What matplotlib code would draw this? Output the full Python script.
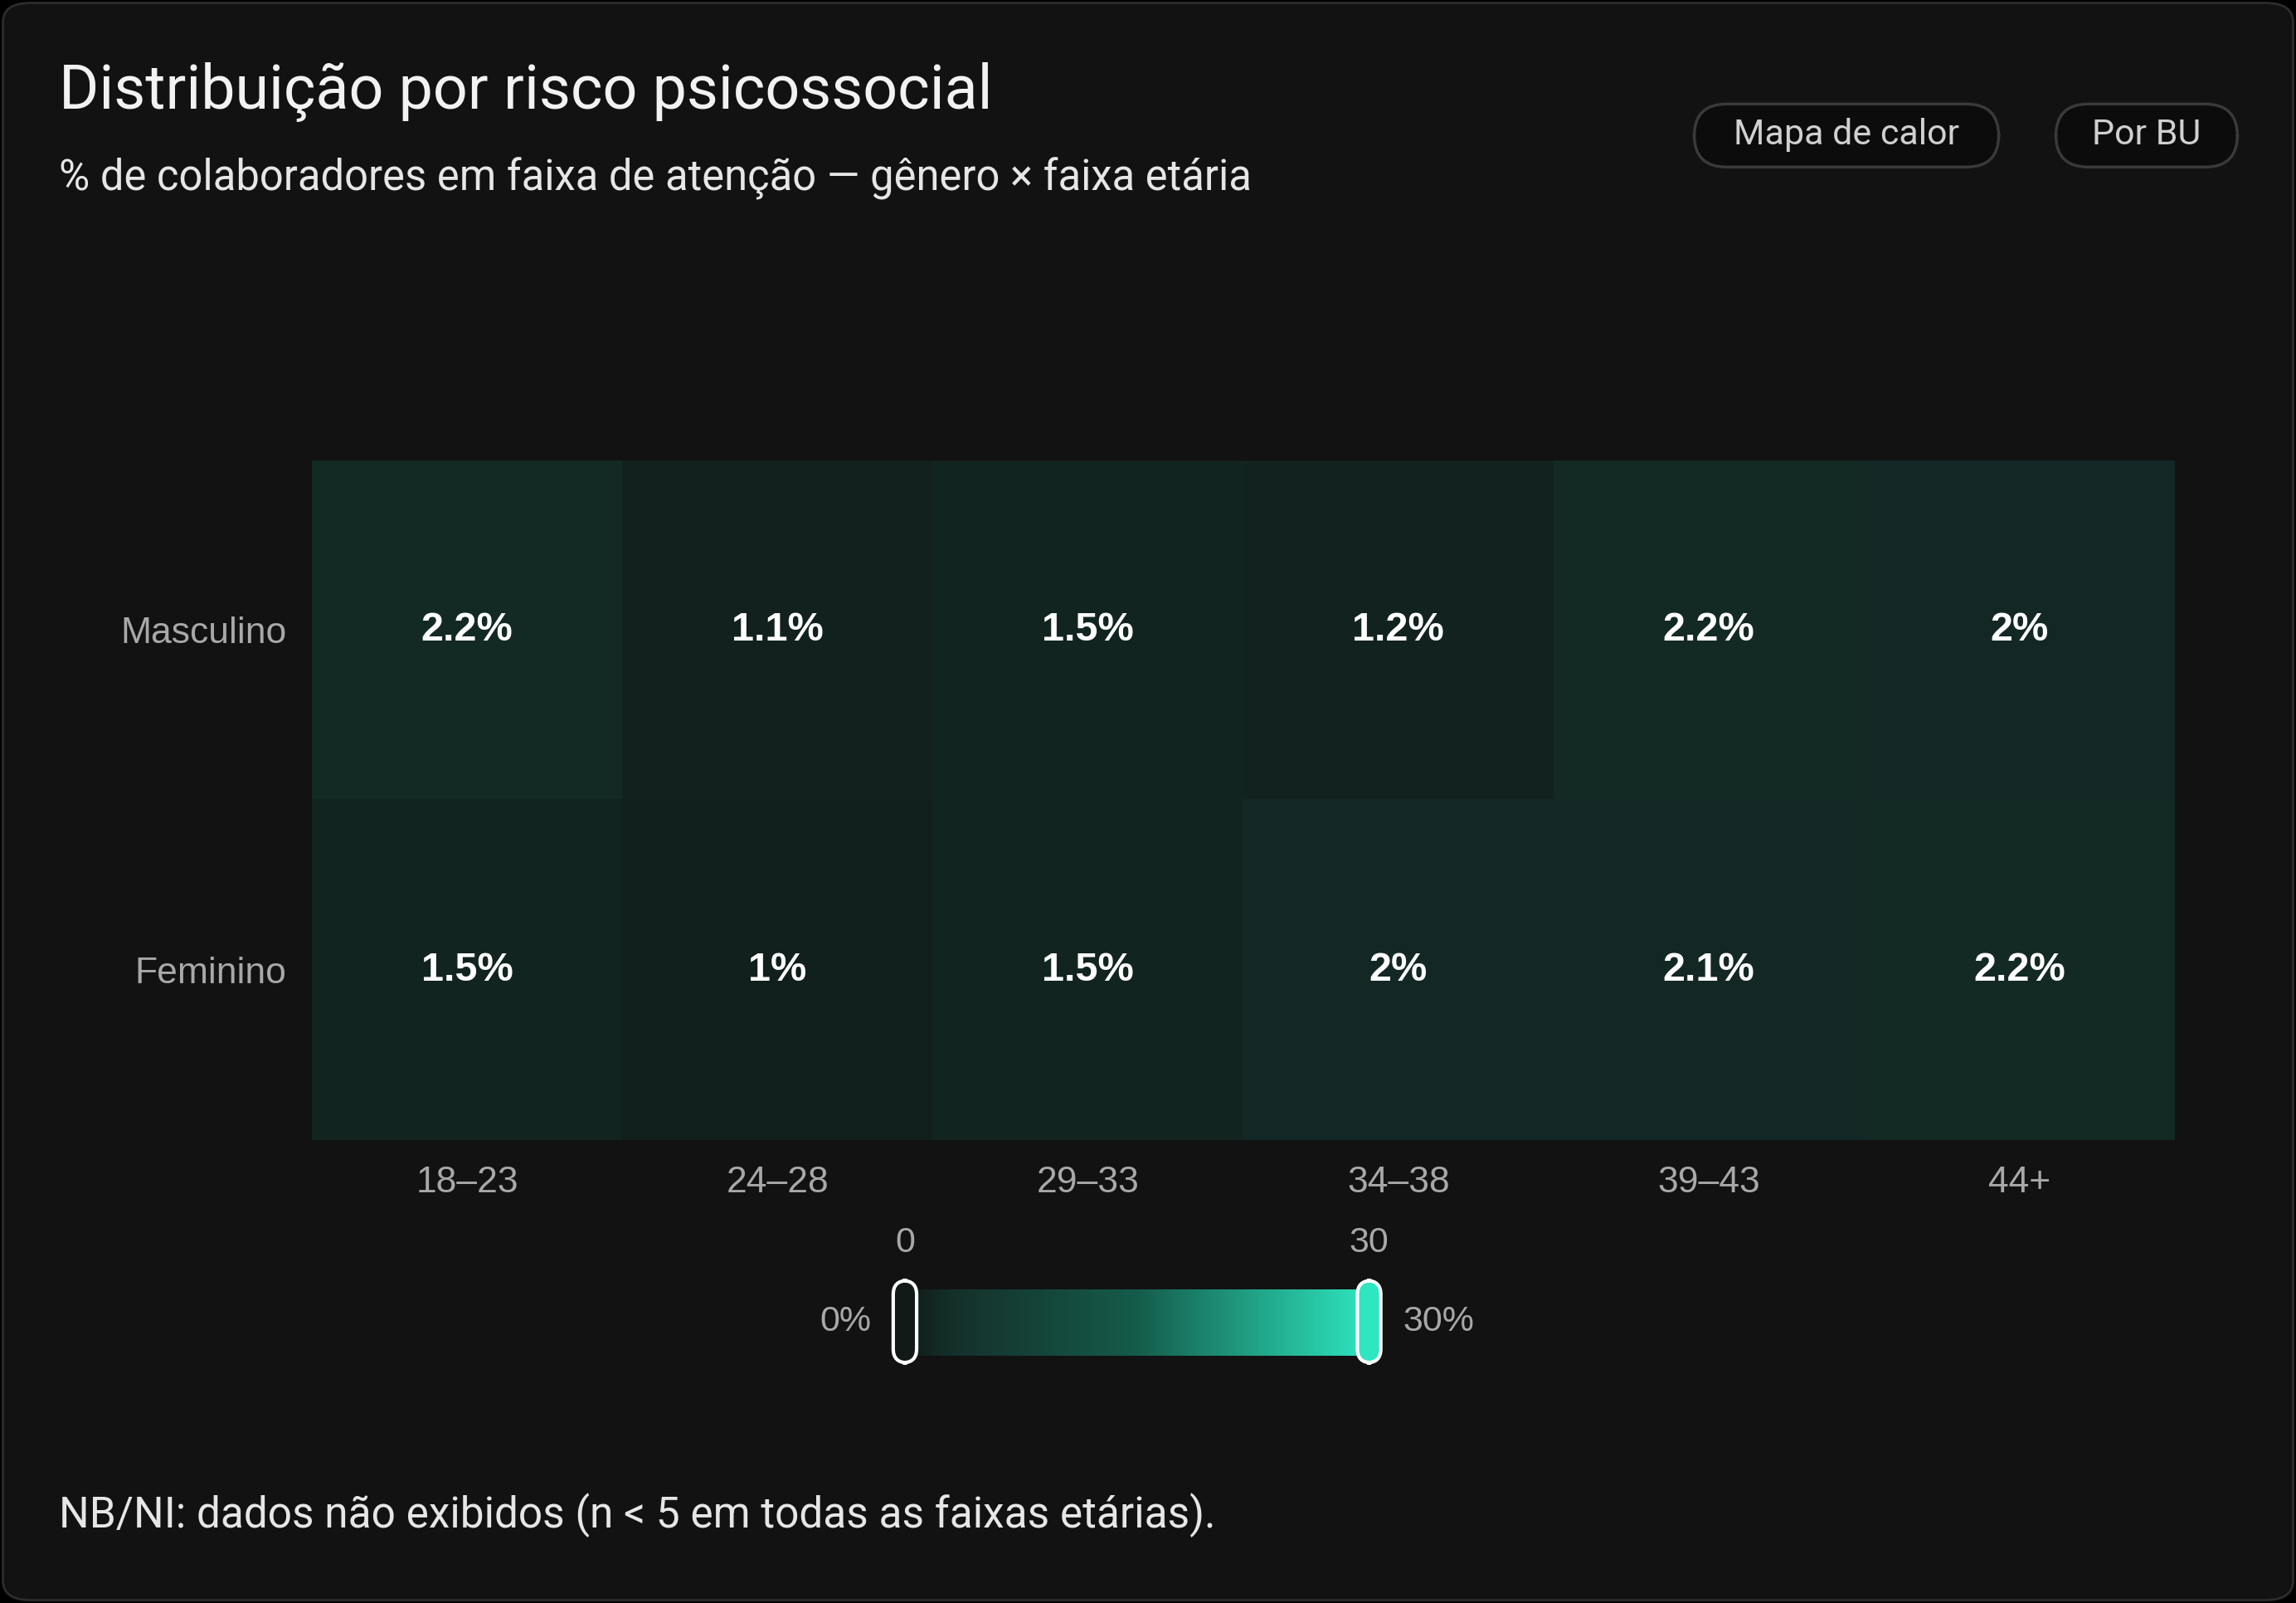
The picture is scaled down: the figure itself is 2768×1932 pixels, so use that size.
import matplotlib.pyplot as plt
import numpy as np
from matplotlib.colors import LinearSegmentedColormap, Normalize
from matplotlib.patches import FancyBboxPatch

# data
ages = ["18–23", "24–28", "29–33", "34–38", "39–43", "44+"]
genders = ["Masculino", "Feminino"]
masculino = [2.2, 1.1, 1.5, 1.2, 2.2, 2.0]
feminino = [1.5, 1.0, 1.5, 2.0, 2.1, 2.2]
scale_min, scale_max = 0, 30

W, H = 1568, 1094  # layout units (reference shown at this size)
fig = plt.figure(figsize=(27.68, 19.32), dpi=100, facecolor='#000000')

def fx(x): return x / W
def fy(y): return 1 - y / H

# card background
card = FancyBboxPatch((fx(2), fy(1092)), fx(1564), 1090 / H,
                      boxstyle="round,pad=0,rounding_size=0.012",
                      transform=fig.transFigure, facecolor='#121212',
                      edgecolor='#2c2c2c', linewidth=2, zorder=-10)
fig.patches.append(card)

fig.text(fx(40), fy(63), "Distribuição por risco psicossocial", color='#f2f2f2',
         fontsize=53, family='Roboto', va='center')
fig.text(fx(40), fy(122), "% de colaboradores em faixa de atenção — gênero × faixa etária",
         color='#e6e6e6', fontsize=36.5, family='Roboto', va='center')
fig.text(fx(40), fy(1034), "NB/NI: dados não exibidos (n < 5 em todas as faixas etárias).",
         color='#e6e6e6', fontsize=37, family='Roboto', va='center')

# buttons
for label, x0, x1 in [("Mapa de calor", 1157, 1365), ("Por BU", 1404, 1528)]:
    b = FancyBboxPatch((fx(x0), fy(114)), fx(x1 - x0), 43 / H,
                       boxstyle="round,pad=0,rounding_size=0.014",
                       transform=fig.transFigure, facecolor='#0c0c0c',
                       edgecolor='#3a3a3a', linewidth=2.5, mutation_aspect=W / H,
                       zorder=-5)
    fig.patches.append(b)
    fig.text(fx((x0 + x1) / 2), fy(92), label, color='#d0d0d0', fontsize=31,
             family='Roboto', ha='center', va='center')

cmap = LinearSegmentedColormap.from_list(
    "risk", [(0, '#121a18'), (0.1, '#14302a'), (0.5, '#155c4b'), (1, '#2ee6c0')])
norm = Normalize(scale_min, scale_max)

ax = fig.add_axes([fx(213), fy(778), fx(1485 - 213), (778 - 314) / H])
ax.set_facecolor('none')
data = np.array([masculino, feminino])
ax.imshow(data, cmap=cmap, norm=norm, aspect='auto')
for i in range(len(genders)):
    for j in range(len(ages)):
        v = data[i, j]
        txt = f"{v:g}%"
        ax.text(j, i, txt, ha='center', va='center', color='white',
                fontsize=35, fontweight='bold', family='Liberation Sans')
ax.set_xticks(range(len(ages)), ages)
ax.set_yticks(range(len(genders)), genders)
ax.tick_params(length=0, labelsize=32, colors='#a8a8a8', pad=22)
for t in ax.get_xticklabels() + ax.get_yticklabels():
    t.set_family('Liberation Sans')
for s in ax.spines.values():
    s.set_visible(False)

# colour scale
cax = fig.add_axes([fx(618), fy(925), fx(935 - 618), 45 / H])
grad = np.linspace(scale_min, scale_max, 256)[None, :]
cax.imshow(grad, cmap=cmap, norm=norm, aspect='auto',
           extent=[scale_min, scale_max, 0, 1])
cax.set_xlim(scale_min, scale_max)
cax.set_axis_off()
for x, fc in [(scale_min, '#121a18'), (scale_max, '#2ee6c0')]:
    hx = fx(618) if x == scale_min else fx(935)
    h = FancyBboxPatch((hx - fx(8), fy(930)), fx(16), 56 / H,
                       boxstyle="round,pad=0,rounding_size=0.006",
                       transform=fig.transFigure, facecolor=fc,
                       edgecolor='white', linewidth=3, mutation_aspect=W / H,
                       zorder=5)
    fig.patches.append(h)
fig.text(fx(618), fy(848), f"{scale_min}", color='#a8a8a8', fontsize=31,
         family='Liberation Sans', ha='center', va='center')
fig.text(fx(935), fy(848), f"{scale_max}", color='#a8a8a8', fontsize=31,
         family='Liberation Sans', ha='center', va='center')
fig.text(fx(595), fy(902), f"{scale_min}%", color='#a8a8a8', fontsize=31,
         family='Liberation Sans', ha='right', va='center')
fig.text(fx(958), fy(902), f"{scale_max}%", color='#a8a8a8', fontsize=31,
         family='Liberation Sans', ha='left', va='center')

fig.savefig('out.png', dpi=100, facecolor=fig.get_facecolor())
